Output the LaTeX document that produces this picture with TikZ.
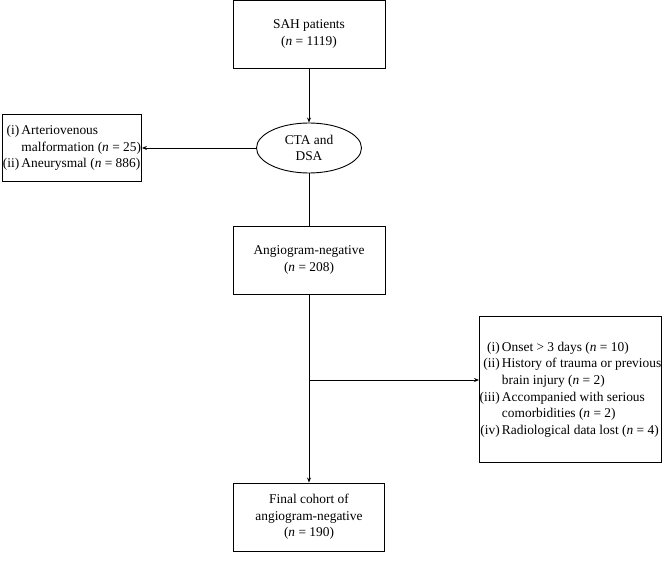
\documentclass[tikz,border=0pt]{standalone}
\usepackage{fontspec}
\setmainfont{Liberation Serif}
\usetikzlibrary{arrows.meta,shapes.geometric}
\begin{document}
\begin{tikzpicture}[x=1pt,y=-1pt,
  every node/.style={font=\fontsize{13.4}{16.7}\selectfont},
  box/.style={draw,line width=0.9pt,rectangle,align=center,inner sep=2pt},
  conn/.style={line width=0.8pt,-{Stealth[length=5pt,width=4pt]}},
  plain/.style={line width=0.8pt}]
\useasboundingbox (0,0) rectangle (662,564);
\node[box,minimum width=152,minimum height=68] (sah) at (309,34) {SAH patients\\(\textit{n} = 1119)};
\node[draw,line width=0.9pt,ellipse,minimum width=105,minimum height=50,inner sep=0pt,align=center] (cta) at (309,148) {CTA and\\DSA};
\node[box,minimum width=139,minimum height=67,anchor=north west,inner xsep=0pt,align=left] (excl1) at (2,114)
  {\begin{tabular}{@{}r@{\,}l@{}}(i)&Arteriovenous\\ &malformation (\textit{n} = 25)\\(ii)&Aneurysmal (\textit{n} = 886)\end{tabular}};
\node[box,minimum width=152,minimum height=68] (neg) at (309,260) {Angiogram-negative\\(\textit{n} = 208)};
\node[box,minimum width=182,minimum height=146,anchor=north west,inner xsep=0pt,align=left] (excl2) at (479,316)
  {\begin{tabular}{@{}r@{\,}l@{}}(i)&Onset > 3 days (\textit{n} = 10)\\(ii)&History of trauma or previous\\ &brain injury (\textit{n} = 2)\\(iii)&Accompanied with serious\\ &comorbidities (\textit{n} = 2)\\(iv)&Radiological data lost (\textit{n} = 4)\end{tabular}};
\node[box,minimum width=151,minimum height=68] (final) at (309,517) {Final cohort of\\angiogram-negative\\(\textit{n} = 190)};
\coordinate (br) at (309,380);
\draw[conn] (sah.south) -- (cta.north);
\draw[conn] (cta.west) -- (excl1.east |- cta.west);
\draw[plain] (cta.south) -- (neg.north);
\draw[conn] (neg.south) -- (final.north);
\draw[conn] (br) -- (excl2.west |- br);
\end{tikzpicture}
\end{document}
